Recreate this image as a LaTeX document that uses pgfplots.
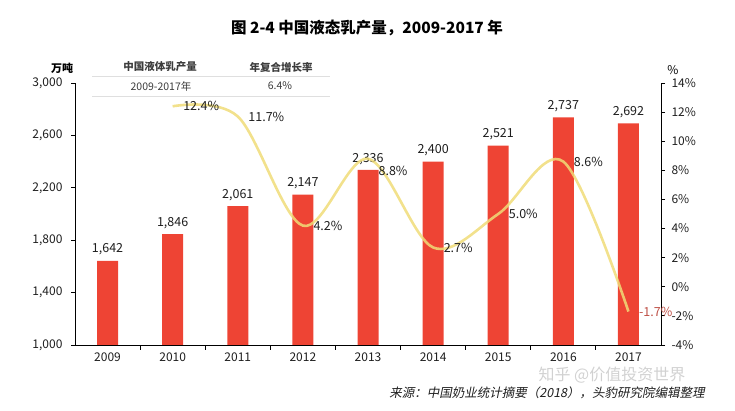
\documentclass[border=0pt]{standalone}
\usepackage{pgfplots}
\pgfplotsset{compat=1.18}
\usepackage{fontspec}
\setmainfont{Noto Sans CJK SC}
\newfontfamily\srcfont[FakeSlant=0.2]{Noto Sans CJK SC}
\definecolor{barred}{RGB}{238,68,52}
\definecolor{lineyel}{RGB}{240,220,120}
\definecolor{tickc}{RGB}{30,30,30}
\definecolor{tabc}{RGB}{60,60,60}
\definecolor{negred}{RGB}{190,80,70}
\begin{document}
\begin{tikzpicture}[x=1pt,y=1pt]
\useasboundingbox (0,0) rectangle (735,411);
% title and captions
\node[font=\fontsize{15.5}{18}\selectfont\bfseries] at (367,383) {图 2-4 中国液态乳产量，2009-2017 年};
\node[font=\fontsize{11}{13}\selectfont\bfseries] at (62,343) {万吨};
\node[font=\fontsize{12}{14}\selectfont] at (673,341) {\%};
% small table
\draw[gray!25, line width=0.8pt] (92,335) -- (330,335);
\draw[gray!25, line width=0.8pt] (92,315) -- (330,315);
\node[font=\fontsize{10.5}{12}\selectfont\bfseries, text=tabc] at (160,344) {中国液体乳产量};
\node[font=\fontsize{10.5}{12}\selectfont\bfseries, text=tabc] at (281,344) {年复合增长率};
\node[font=\fontsize{10.5}{12}\selectfont, text=tabc] at (161,325) {2009-2017年};
\node[font=\fontsize{10.5}{12}\selectfont, text=tabc] at (280,325) {6.4\%};
% source
\node[font=\fontsize{16}{18}\selectfont, text=gray!45, opacity=0.8] at (612,36) {知乎 @价值投资世界};
\node[font=\fontsize{12.5}{14}\selectfont\srcfont, text=tickc] at (547,18) {来源：中国奶业统计摘要（2018），头豹研究院编辑整理};

\begin{axis}[
  at={(75pt,66pt)}, anchor=south west,
  scale only axis, width=586pt, height=262pt,
  axis y line*=left, axis x line*=bottom,
  axis line style={line width=0.9pt, black, -},
  xmin=-0.5, xmax=8.5,
  ymin=1000, ymax=3000,
  ytick={1000,1400,1800,2200,2600,3000},
  xtick={0,...,8},
  xticklabels={2009,2010,2011,2012,2013,2014,2015,2016,2017},
  minor xtick={0.5,1.5,...,7.5},
  major x tick style={draw=none},
  tick align=outside,
  major tick length=4pt, minor tick length=5pt,
  tick style={line width=0.9pt, black},
  /pgf/number format/assume math mode=true,
  /pgf/number format/1000 sep={,},
  ticklabel style={font=\fontsize{12}{14}\selectfont, text=tickc},
  yticklabel style={xshift=-5pt},
  ybar, bar width=21pt,
  nodes near coords={\pgfmathprintnumber{\pgfplotspointmeta}},
  every node near coord/.append style={font=\fontsize{12.5}{14}\selectfont, text=tickc, yshift=2pt},
]
\addplot[fill=barred, draw=none] coordinates {
  (0,1642) (1,1846) (2,2061) (3,2147) (4,2336) (5,2400) (6,2521) (7,2737) (8,2692)};
\end{axis}

\begin{axis}[
  at={(75pt,66pt)}, anchor=south west,
  scale only axis, width=586pt, height=262pt,
  axis y line*=right, axis x line=none,
  axis line style={line width=0.9pt, black, -},
  xmin=-0.5, xmax=8.5,
  ymin=-4, ymax=14,
  ytick={-4,-2,...,14},
  tick align=outside,
  major tick length=4pt,
  tick style={line width=0.9pt, black},
  /pgf/number format/assume math mode=true,
  yticklabel={\pgfmathprintnumber{\tick}\%},
  ticklabel style={font=\fontsize{12}{14}\selectfont, text=tickc},
  yticklabel style={xshift=3pt},
]
\addplot[color=lineyel, line width=2.6pt, opacity=0.85, smooth, tension=0.55,
  nodes near coords, point meta=explicit symbolic,
  every node near coord/.append style={anchor=west, xshift=6pt, font=\fontsize{12.5}{14}\selectfont, text=tickc, opacity=1}]
  coordinates {
  (1,12.4) [12.4\%]
  (2,11.7) [11.7\%]
  (3,4.2) [4.2\%]
  (4,8.8) [\smash{\raisebox{-17pt}{8.8\%}}]
  (5,2.7) [2.7\%]
  (6,5.0) [5.0\%]
  (7,8.6) [8.6\%]
  (8,-1.7) [\textcolor{negred}{-1.7\%}]
  };
\end{axis}
\end{tikzpicture}
\end{document}
